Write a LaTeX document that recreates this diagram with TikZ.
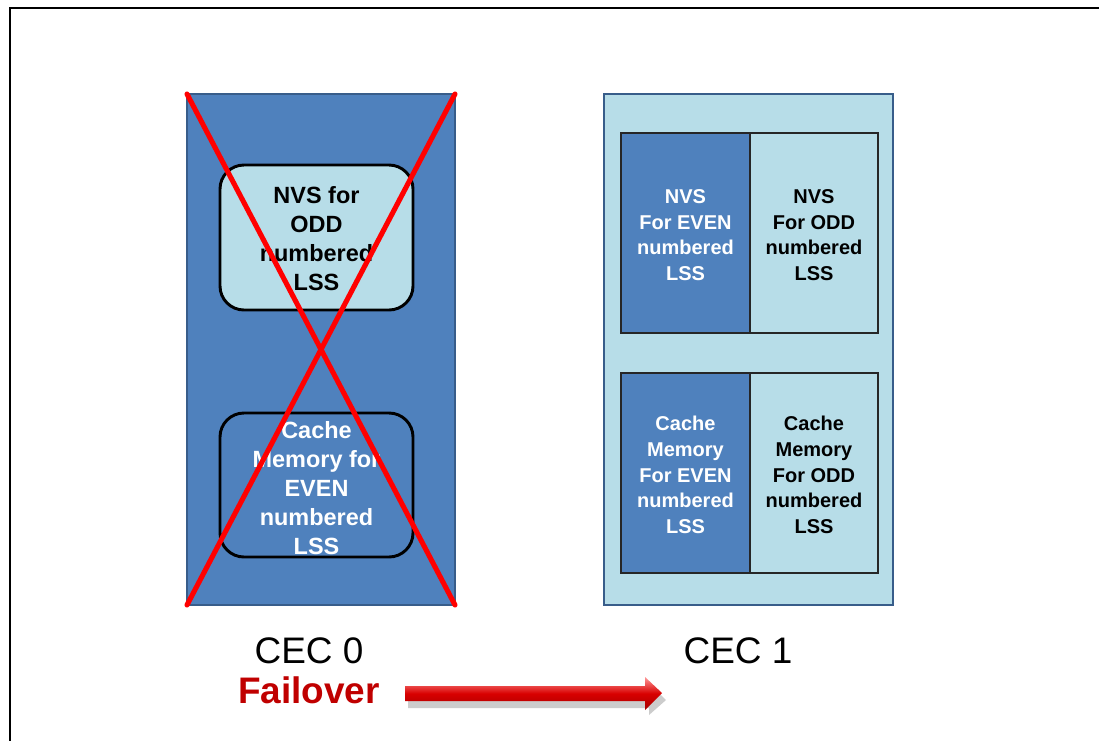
\documentclass[tikz,border=0pt]{standalone}
\usepackage{fontspec}
\setmainfont{Liberation Sans}
\usetikzlibrary{shadings}
\definecolor{cecblue}{HTML}{4F81BD}
\definecolor{ceclight}{HTML}{B7DDE8}
\definecolor{cecedge}{HTML}{385D8A}
\definecolor{xred}{HTML}{FF0000}
\definecolor{failred}{HTML}{C00000}
\newcommand{\pxfont}[2]{\fontsize{#1}{#2}\selectfont}
\begin{document}
\begin{tikzpicture}[x=0.75pt,y=-0.75pt,
  cec/.style={draw=cecedge,line width=1.2pt},
  roundbox/.style={draw=black,line width=2.2pt,rounded corners=18pt},
  half/.style={draw=black!85,line width=2.2pt},
  lbl/.style={align=center,font=\bfseries\pxfont{17.6}{21.7}},
  hlbl/.style={align=center,font=\bfseries\pxfont{15}{19.3}},
  ceclbl/.style={anchor=base,font=\pxfont{27.7}{30}},
  cross/.style={draw=xred,line width=3.8pt,line cap=round}]
\useasboundingbox (0,0) rectangle (1099,740);
\fill[white] (0,0) rectangle (1099,740);
% page frame
\draw[line width=2pt] (10,745) -- (10,8) -- (1105,8);

% ---- CEC 0 (failed) ----
\path[cec,fill=cecblue] (187,94) rectangle (455,605);
\coordinate (c0nw) at (187,94);
\coordinate (c0ne) at (455,94);
\coordinate (c0sw) at (187,605);
\coordinate (c0se) at (455,605);
\path[roundbox,fill=ceclight] (220,165) rectangle (413,310);
\node[lbl,text=black] (nvsodd) at (316.5,239) {NVS for\\ODD\\numbered\\LSS};
\path[roundbox,fill=cecblue] (220,413) rectangle (413,557);
\node[lbl,text=white] (cacheeven) at (316.5,488) {Cache\\Memory for\\EVEN\\numbered\\LSS};
\draw[cross] (c0nw) -- (c0se);
\draw[cross] (c0ne) -- (c0sw);

% ---- CEC 1 (surviving) ----
\path[cec,fill=ceclight] (604,94) rectangle (893,605);
% NVS pair
\fill[cecblue] (621,133) rectangle (750,333);
\fill[ceclight] (750,133) rectangle (878,333);
\draw[half] (621,133) rectangle (878,333);
\draw[half] (750,133) -- (750,333);
\node[hlbl,text=white] (nvseven) at (685.5,235) {NVS\\For EVEN\\numbered\\LSS};
\node[hlbl,text=black] (nvsodd1) at (814,235) {NVS\\For ODD\\numbered\\LSS};
% Cache pair
\fill[cecblue] (621,373) rectangle (750,573);
\fill[ceclight] (750,373) rectangle (878,573);
\draw[half] (621,373) rectangle (878,573);
\draw[half] (750,373) -- (750,573);
\node[hlbl,text=white] (cacheeven1) at (685.5,475) {Cache\\Memory\\For EVEN\\numbered\\LSS};
\node[hlbl,text=black] (cacheodd1) at (814,475) {Cache\\Memory\\For ODD\\numbered\\LSS};

% ---- labels ----
\node[ceclbl] (cec0) at (309,663) {CEC 0};
\node[ceclbl] (cec1) at (738,663) {CEC 1};
\node[anchor=base,text=failred,font=\bfseries\pxfont{27.7}{30}] (failover) at (309,703) {Failover};

% ---- failover arrow: soft shadow, then shaded body ----
\fill[gray!40] (408,692) -- (649,692) -- (649,683) -- (666,700) -- (649,715) -- (649,708) -- (408,708) -- cycle;
\shade[top color=red!40!white,bottom color=red!65!black,middle color=red!85!black]
  (405,686) -- (645,686) -- (645,677) -- (662,693) -- (645,710) -- (645,701) -- (405,701) -- cycle;
\coordinate (arrowtip) at (662,693);
\end{tikzpicture}
\end{document}
